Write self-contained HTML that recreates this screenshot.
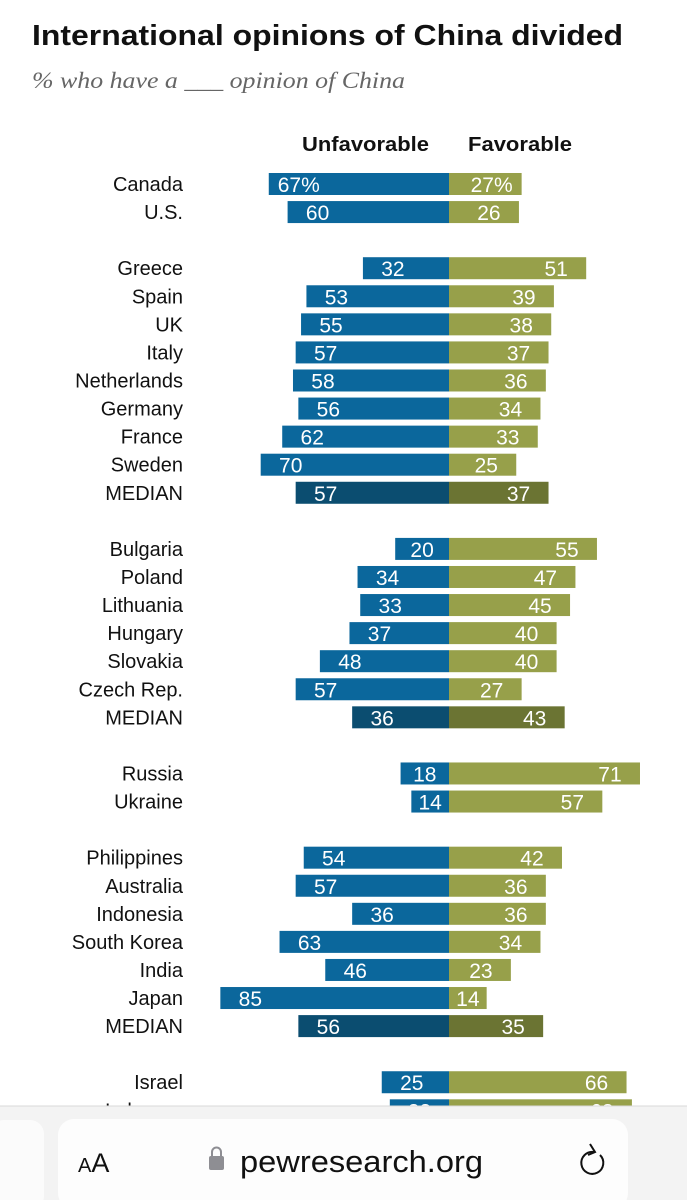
<!DOCTYPE html>
<html><head><meta charset="utf-8"><style>
body{margin:0;width:687px;height:1200px;overflow:hidden;background:#fff;font-family:"Liberation Sans",sans-serif;position:relative}
svg{position:absolute;left:0;top:0}
</style></head><body>
<svg width="687" height="1200">
<text x="32" y="45" font-size="29" font-weight="bold" fill="#111" textLength="591" lengthAdjust="spacingAndGlyphs">International opinions of China divided</text>
<text x="32" y="88" font-size="23" font-style="italic" font-family="Liberation Serif,serif" fill="#666" textLength="373" lengthAdjust="spacingAndGlyphs">% who have a ___ opinion of China</text>
<text x="302" y="151" font-size="20" font-weight="bold" fill="#111" textLength="127" lengthAdjust="spacingAndGlyphs">Unfavorable</text>
<text x="468" y="151" font-size="20" font-weight="bold" fill="#111" textLength="104" lengthAdjust="spacingAndGlyphs">Favorable</text>
<g id="bars"></g>
<rect x="0" y="1106" width="687" height="94" fill="#f3f3f3"/>
<line x1="0" y1="1106" x2="687" y2="1106" stroke="#d8d8d8"/>
<rect x="-10" y="1120" width="54" height="90" rx="14" fill="#fbfbfb"/>
<rect x="58" y="1119" width="570" height="90" rx="16" fill="#fdfdfd"/>
<text x="78" y="1172" font-size="27" fill="#111"><tspan font-size="20">A</tspan>A</text>
<g><rect x="209" y="1156" width="15" height="14" rx="2" fill="#8e8e93"/><path d="M212 1157 v-5 a4.5 4.5 0 0 1 9 0 v5" fill="none" stroke="#8e8e93" stroke-width="2"/></g>
<text x="240" y="1172" font-size="31" fill="#111" textLength="243" lengthAdjust="spacingAndGlyphs">pewresearch.org</text>
<g><path d="M594 1152 a11 11 0 1 0 6 3" fill="none" stroke="#111" stroke-width="2"/><path d="M590 1144 l5 8 l-7 3" fill="none" stroke="#111" stroke-width="2"/></g>
</svg>
<script>
const countries=["Canada","U.S.","Greece","Spain","UK","Italy","Netherlands","Germany","France","Sweden","MEDIAN","Bulgaria","Poland","Lithuania","Hungary","Slovakia","Czech Rep.","MEDIAN","Russia","Ukraine","Philippines","Australia","Indonesia","South Korea","India","Japan","MEDIAN","Israel","Lebanon"];
const rowIndex=[0,1,3,4,5,6,7,8,9,10,11,13,14,15,16,17,18,19,21,22,24,25,26,27,28,29,30,32,33];
const unfavorable=[67,60,32,53,55,57,58,56,62,70,57,20,34,33,37,48,57,36,18,14,54,57,36,63,46,85,56,25,22];
const favorable=[27,26,51,39,38,37,36,34,33,25,37,55,47,45,40,40,27,43,71,57,42,36,36,34,23,14,35,66,68];
const CX=449,K=2.69,Y0=184,DY=28.07,H=22;
const xs=v=>v*K, ys=i=>Y0+i*DY;
const g=document.getElementById('bars');
const NS='http://www.w3.org/2000/svg';
function mk(t,a){const e=document.createElementNS(NS,t);for(const k in a)e.setAttribute(k,a[k]);g.appendChild(e);return e;}
countries.forEach((c,i)=>{
  const y=ys(rowIndex[i]);const med=c==="MEDIAN";
  const lab=mk('text',{x:183,y:y+7,'font-size':20,'text-anchor':'end',fill:'#111'});lab.textContent=c;
  
  
  const wu=xs(unfavorable[i]);
  const bu=mk('rect',{x:CX-wu,y:y-H/2,width:wu,height:H,fill:med?'#0b4d70':'#0b679c'});
  
  
  const wf=xs(favorable[i]);
  const bf=mk('rect',{x:CX,y:y-H/2,width:wf,height:H,fill:med?'#6b7433':'#97a04a'});
  
  
  const tu=mk('text',{x:CX-wu+Math.min(30,wu/2),y:y+8,'font-size':21,'text-anchor':'middle',fill:'#fff'});
  tu.textContent=unfavorable[i]+(i===0?'%':'');
  
  
  const tf=mk('text',{x:CX+wf-Math.min(30,wf/2),y:y+8,'font-size':21,'text-anchor':'middle',fill:'#fff'});
  tf.textContent=favorable[i]+(i===0?'%':'');
  
  
});
</script>
</body></html>
